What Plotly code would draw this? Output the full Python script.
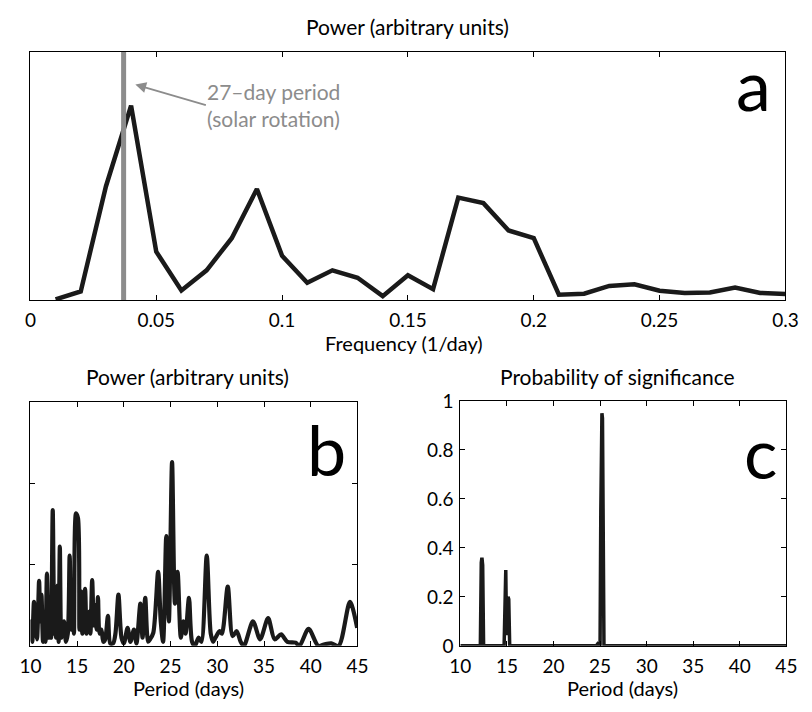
import plotly.graph_objects as go

# ---- panel a: power spectrum vs frequency ----
freq_a = [0.01, 0.02, 0.03, 0.04, 0.05, 0.06, 0.07, 0.08, 0.09, 0.10,
          0.11, 0.12, 0.13, 0.14, 0.15, 0.16, 0.17, 0.18, 0.19, 0.20,
          0.21, 0.22, 0.23, 0.24, 0.25, 0.26, 0.27, 0.28, 0.29, 0.30]
power_a = [0.004, 0.036, 0.458, 0.783, 0.196, 0.040, 0.121, 0.250, 0.448, 0.179,
           0.071, 0.121, 0.091, 0.017, 0.101, 0.045, 0.413, 0.391, 0.281, 0.250,
           0.023, 0.027, 0.058, 0.065, 0.039, 0.030, 0.032, 0.052, 0.030, 0.026]
solar_period = 27.0
freq_ticks = [0, 0.05, 0.1, 0.15, 0.2, 0.25, 0.3]

# ---- panel b: power spectrum vs period ----
period_b = [10.0, 10.07, 10.2, 10.38, 10.55, 10.7, 10.93, 11.05, 11.18, 11.35,
            11.5, 11.62, 11.77, 11.95, 12.1, 12.22, 12.39, 12.55, 12.65, 12.75,
            12.9, 13.02, 13.15, 13.3, 13.45, 13.6, 13.8, 14.0, 14.2, 14.35,
            14.52, 14.66, 14.88, 15.09, 15.25, 15.42, 15.56, 15.85, 16.0, 16.1,
            16.27, 16.42, 16.61, 16.78, 16.92, 17.08, 17.23, 17.4, 17.6, 17.8,
            18.0, 18.3, 18.55, 18.85, 19.1, 19.42, 19.75, 20.0, 20.4, 20.7,
            21.08, 21.35, 21.77, 22.0, 22.29, 22.6, 22.8, 23.15, 23.67, 23.95,
            24.2, 24.54, 24.82, 25.16, 25.47, 25.75, 26.1, 26.37, 26.6, 26.97,
            27.3, 27.6, 28.0, 28.3, 28.87, 29.3, 29.56, 29.8, 30.25, 30.5,
            31.12, 31.64, 32.08, 32.5, 32.85, 33.82, 34.58, 35.44, 36.14, 36.83,
            37.5, 38.38, 38.8, 39.77, 40.8, 41.5, 42.2, 43.0, 44.2, 44.97]
power_b = [0.10, 0.30, 0.05, 0.54, 0.20, 0.08, 0.80, 0.30, 0.63, 0.05,
           0.35, 0.05, 0.89, 0.10, 0.55, 0.10, 1.67, 0.15, 0.60, 0.10,
           0.74, 0.05, 1.22, 0.10, 0.25, 0.30, 0.05, 0.15, 1.11, 0.20,
           0.75, 0.15, 1.63, 1.57, 0.20, 0.67, 0.15, 0.70, 0.15, 0.30,
           0.42, 0.15, 0.81, 0.25, 0.50, 0.20, 0.60, 0.15, 0.20, 0.05,
           0.08, 0.37, 0.03, 0.03, 0.15, 0.63, 0.10, 0.03, 0.22, 0.05,
           0.20, 0.03, 0.52, 0.10, 0.59, 0.05, 0.08, 0.16, 0.91, 0.30,
           0.05, 1.35, 0.30, 2.26, 0.52, 0.91, 0.10, 0.30, 0.15, 0.59,
           0.05, 0.00, 0.10, 0.05, 1.11, 0.15, 0.05, 0.10, 0.18, 0.15,
           0.73, 0.12, 0.18, 0.05, 0.00, 0.30, 0.08, 0.34, 0.08, 0.14,
           0.05, 0.04, 0.00, 0.21, 0.00, 0.02, 0.03, 0.00, 0.54, 0.22]

# ---- panel c: probability of significance vs period ----
period_c = [10.0, 12.15, 12.25, 12.32, 12.4, 12.5, 14.7, 14.8, 14.88, 14.96,
            15.04, 15.12, 15.2, 15.3, 24.6, 24.75, 24.9, 25.0, 25.08, 25.15,
            25.2, 25.26, 25.33, 25.42, 45.0]
prob_c = [0.0, 0.0, 0.34, 0.36, 0.33, 0.0, 0.0, 0.30, 0.31, 0.05,
          0.05, 0.20, 0.19, 0.0, 0.0, 0.008, 0.0, 0.0, 0.55, 0.93,
          0.95, 0.93, 0.55, 0.0, 0.0]

period_ticks = [10, 15, 20, 25, 30, 35, 40, 45]
prob_ticks = [0, 0.2, 0.4, 0.6, 0.8, 1]

W, H = 812, 712
FONT = "Lato"
INK = "#1a1a1a"
GREY = "#8c8c8c"


def px(x):
    return x / W


def py(y):
    return 1 - y / H


fig = go.Figure()

fig.add_trace(go.Scatter(x=freq_a, y=power_a, mode="lines",
                         line=dict(color=INK, width=4.5), xaxis="x", yaxis="y"))
fig.add_trace(go.Scatter(x=[1 / solar_period, 1 / solar_period], y=[0, 1], mode="lines",
                         line=dict(color=GREY, width=5), xaxis="x", yaxis="y"))
fig.add_trace(go.Scatter(x=period_b, y=power_b, mode="lines",
                         line=dict(color=INK, width=4.2, shape="spline", smoothing=0.8),
                         xaxis="x2", yaxis="y2"))
fig.add_trace(go.Scatter(x=period_c, y=prob_c, mode="lines",
                         line=dict(color=INK, width=3.5),
                         xaxis="x3", yaxis="y3"))

axis_common = dict(showline=True, linecolor="black", linewidth=1, mirror="ticks",
                   ticks="inside", ticklen=5, tickcolor="black", showgrid=False,
                   zeroline=False, tickfont=dict(family=FONT, size=19, color="black"))

fig.update_layout(
    width=W, height=H, margin=dict(l=0, r=0, t=0, b=0),
    paper_bgcolor="white", plot_bgcolor="white", showlegend=False,
    xaxis=dict(axis_common, domain=[px(20), px(798)], range=[0, 0.3],
               tickvals=freq_ticks, ticktext=["0", "0.05", "0.1", "0.15", "0.2", "0.25", "0.3"],
               ticklabelstandoff=3, anchor="y"),
    yaxis=dict(axis_common, domain=[py(298), py(41)], range=[0, 1],
               ticks="", showticklabels=False, anchor="x"),
    xaxis2=dict(axis_common, domain=[px(20), px(357)], range=[10, 45],
                tickvals=period_ticks, ticklabelstandoff=3, anchor="y2"),
    yaxis2=dict(axis_common, domain=[py(655), py(403)], range=[0, 3],
                tickvals=[1, 2], showticklabels=False, anchor="x2"),
    xaxis3=dict(axis_common, domain=[px(463), px(799)], range=[10, 45],
                tickvals=period_ticks, ticklabelstandoff=3, anchor="y3"),
    yaxis3=dict(axis_common, domain=[py(655), py(402)], range=[0, 1],
                tickvals=prob_ticks, ticktext=["0", "0.2", "0.4", "0.6", "0.8", "1"],
                ticklabelstandoff=2, anchor="x3"),
)

texts = [
    ("Power (arbitrary units)", 409, 15, 21),
    ("Frequency (1/day)", 405, 342, 20),
    ("Power (arbitrary units)", 182, 377, 21),
    ("Probability of significance", 625, 377, 21),
    ("Period (days)", 183, 699, 20),
    ("Period (days)", 630, 699, 20),
]
for t, x, y, s in texts:
    fig.add_annotation(text=t, x=px(x), y=py(y), xref="paper", yref="paper",
                       showarrow=False, xanchor="center", yanchor="middle",
                       font=dict(family=FONT, size=s, color="black"))

# panel letters
for t, x, y in [("a", 765, 74), ("b", 325, 452), ("c", 772, 455)]:
    fig.add_annotation(text=t, x=px(x), y=py(y), xref="paper", yref="paper",
                       showarrow=False, xanchor="center", yanchor="middle",
                       font=dict(family=FONT, size=70, color="black"))

# solar rotation callout
fig.add_annotation(text="27\u2013day period<br>(solar rotation)", x=px(200), y=py(96),
                   xref="paper", yref="paper", showarrow=False, xanchor="left",
                   yanchor="middle", align="left",
                   font=dict(family=FONT, size=21, color=GREY))
fig.add_annotation(text="", x=0.0417, y=0.868, xref="x", yref="y",
                   showarrow=True, ax=72, ay=21, arrowhead=2, arrowsize=1.2,
                   arrowwidth=1.8, arrowcolor=GREY)

fig.write_html("out.html")
